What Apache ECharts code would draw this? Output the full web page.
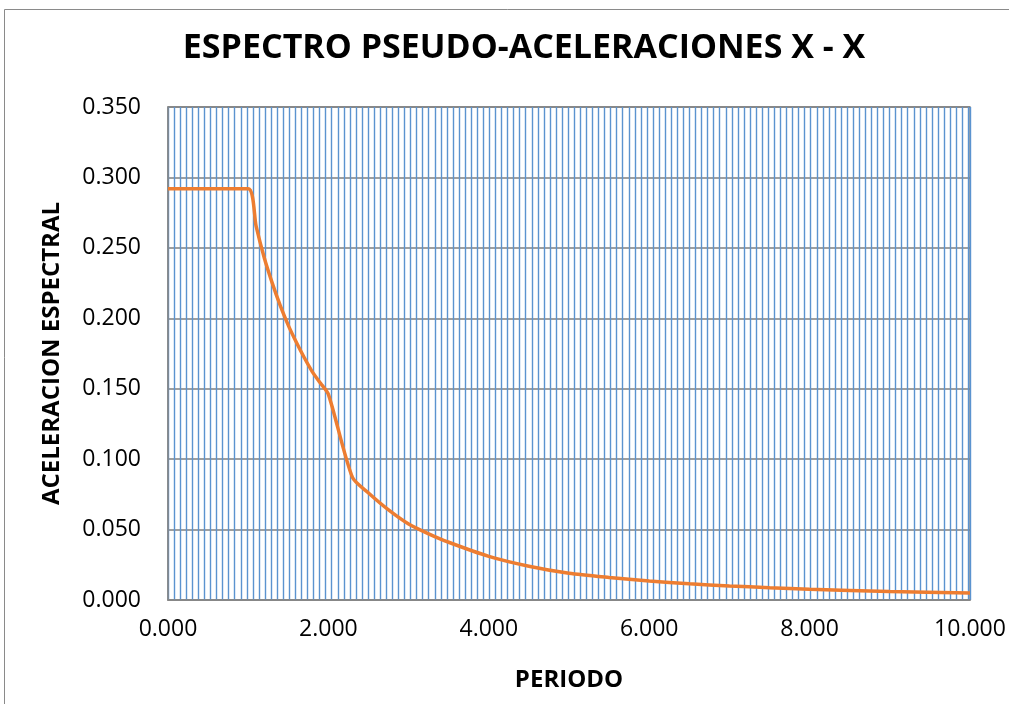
<!DOCTYPE html>
<html><head><meta charset="utf-8">
<script src="https://cdn.jsdelivr.net/npm/echarts@6/dist/echarts.min.js"></script>
<style>html,body{margin:0;padding:0;background:#fff}#c{width:1009px;height:704px}</style>
</head><body><div id="c"></div>
<script>
const titleText = 'ESPECTRO PSEUDO-ACELERACIONES X - X';
const xName = 'PERIODO';
const yName = 'ACELERACION ESPECTRAL';
const periods = [0, 0.5, 1.0, 1.1, 1.2, 1.3, 1.4, 1.5, 1.6, 1.7, 1.8, 1.9, 2.0, 2.3, 2.5, 2.75, 3.0, 3.25, 3.5, 4.0, 4.5, 5.0, 5.5, 6.0, 6.5, 7.0, 7.5, 8.0, 9.0, 10.0];
const accel   = [0.292, 0.292, 0.292, 0.265, 0.243, 0.225, 0.209, 0.195, 0.183, 0.172, 0.162, 0.154, 0.146, 0.087, 0.076, 0.064, 0.054, 0.047, 0.041, 0.031, 0.024, 0.019, 0.016, 0.0135, 0.0115, 0.0100, 0.0087, 0.0077, 0.0060, 0.0049];
const xTicks = [0, 2, 4, 6, 8, 10];
const yTicks = [0, 0.05, 0.1, 0.15, 0.2, 0.25, 0.3, 0.35];

const chart = echarts.init(document.getElementById('c'), null, {renderer: 'canvas'});
const font = "'Open Sans', sans-serif";
chart.setOption({
  animation: false,
  backgroundColor: '#fff',
  graphic: [{type: 'rect', shape: {x: 4.5, y: 9.5, width: 1100, height: 1000}, style: {fill: 'none', stroke: '#8a8a8a', lineWidth: 1}, silent: true, z: -10}],
  title: {text: titleText, left: 519, top: 26, textAlign: 'center',
    textStyle: {fontFamily: font, fontWeight: 'bold', fontSize: 34, color: '#000'}},
  grid: {left: 168, top: 107, right: 39, bottom: 104, show: true, borderColor: '#868686', borderWidth: 1.5},
  xAxis: [{
    type: 'value', min: xTicks[0], max: xTicks[xTicks.length - 1], interval: xTicks[1] - xTicks[0],
    name: xName, nameLocation: 'middle', nameGap: 68,
    nameTextStyle: {fontFamily: font, fontWeight: 'bold', fontSize: 24, color: '#000'},
    axisLine: {show: true, lineStyle: {color: '#868686', width: 1.5}},
    axisTick: {show: false},
    splitLine: {show: false},
    axisLabel: {margin: 18, fontFamily: font, fontSize: 23, color: '#000', formatter: v => v.toFixed(3)}
  }, {
    type: 'value', min: 0, max: 10, interval: 0.0756, position: 'bottom',
    axisLine: {show: false}, axisTick: {show: false}, axisLabel: {show: false},
    splitLine: {show: true, lineStyle: {color: '#5b93cf', width: 1.4}}
  }],
  yAxis: {
    type: 'value', min: yTicks[0], max: yTicks[yTicks.length - 1], interval: yTicks[1] - yTicks[0],
    name: yName, nameLocation: 'middle', nameRotate: 90, nameGap: 104,
    nameTextStyle: {fontFamily: font, fontWeight: 'bold', fontSize: 24, color: '#000'},
    axisLine: {show: true, lineStyle: {color: '#868686', width: 1.5}},
    axisTick: {show: false},
    splitLine: {show: true, lineStyle: {color: '#7f7f7f', width: 1.5}},
    axisLabel: {margin: 27, fontFamily: font, fontSize: 23, color: '#000', formatter: v => v.toFixed(3)}
  },
  series: [{
    type: 'line', xAxisIndex: 0, showSymbol: false, smooth: 0.25, z: 5,
    data: periods.map((t, i) => [t, accel[i]]),
    lineStyle: {color: '#ED7D31', width: 3.5}
  }]
});
</script></body></html>
